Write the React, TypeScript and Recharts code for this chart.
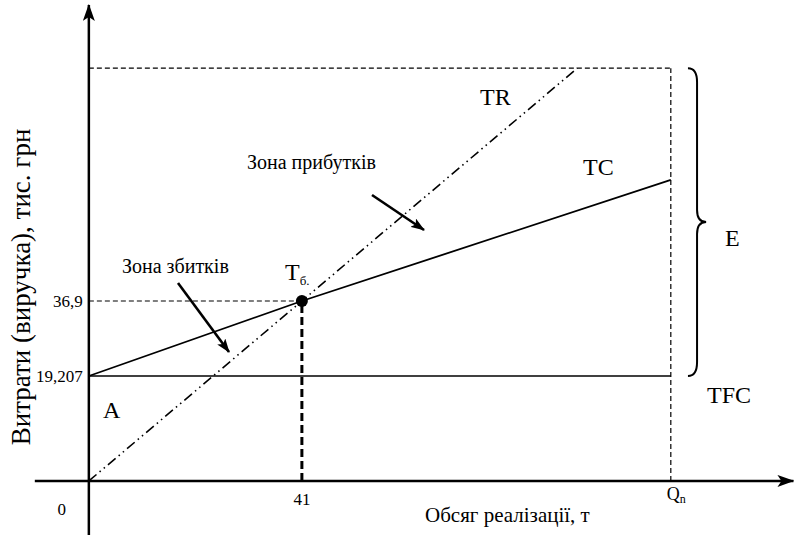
import { LineChart, Line, XAxis, YAxis, ReferenceLine, ReferenceDot, ReferenceArea } from "recharts";

// обсяг реалізації, т
const breakEvenQ = 41;
const planQ = 112;
const trEndQ = 94;

// витрати / виручка, тис. грн
const fixedCost = 19.207;
const breakEvenCost = 36.9;
const tcAtPlan = 68.8;
const trAtPlan = 100.8;

const trData = [
  { q: 0, v: 0 },
  { q: breakEvenQ, v: breakEvenCost },
  { q: trEndQ, v: trAtPlan },
];
const tcData = [
  { q: 0, v: fixedCost },
  { q: breakEvenQ, v: breakEvenCost },
  { q: planQ, v: tcAtPlan },
];
const tfcData = [
  { q: 0, v: fixedCost },
  { q: planQ, v: fixedCost },
];
const planTop = [
  { q: 0, v: trAtPlan },
  { q: planQ, v: trAtPlan },
];
const planSide = [
  { q: planQ, v: 0 },
  { q: planQ, v: trAtPlan },
];
const beLevel = [
  { q: 0, v: breakEvenCost },
  { q: breakEvenQ, v: breakEvenCost },
];
const beDrop = [
  { q: breakEvenQ, v: 0 },
  { q: breakEvenQ, v: breakEvenCost },
];

const xTicks = [0, breakEvenQ, planQ];
const yTicks = [0, fixedCost, breakEvenCost];

const xDomain = [-17.1, 135.9];
const yDomain = [-8.6, 121.3];

const FONT = "'Liberation Serif', 'Times New Roman', serif";

// схема не в масштабі: вісь витрат стиснута степеневою шкалою
function powScale(k: number): any {
  let dom = [0, 1];
  let rng = [0, 1];
  const g = (v: number) => Math.sign(v) * Math.pow(Math.abs(v), k);
  const s: any = (v: number) =>
    rng[0] + ((g(Number(v)) - g(dom[0])) / (g(dom[1]) - g(dom[0]))) * (rng[1] - rng[0]);
  s.domain = (d?: any[]) => {
    if (!d) return dom.slice();
    dom = [Number(d[0]), Number(d[d.length - 1])];
    return s;
  };
  s.range = (r?: any[]) => {
    if (!r) return rng.slice();
    rng = [Number(r[0]), Number(r[r.length - 1])];
    return s;
  };
  s.invert = (p: number) => {
    const t = g(dom[0]) + ((p - rng[0]) / (rng[1] - rng[0])) * (g(dom[1]) - g(dom[0]));
    return Math.sign(t) * Math.pow(Math.abs(t), 1 / k);
  };
  s.ticks = () => yTicks.slice();
  s.copy = () => powScale(k).domain(dom).range(rng);
  return s;
}

const yScale = powScale(0.826);

const Brace = (p: any) => {
  const { x, y, width, height } = p;
  const xm = x + width / 2;
  const ym = y + height / 2;
  const yb = y + height;
  const d = `M${x},${y} Q${xm},${y} ${xm},${y + 14} L${xm},${ym - 12} Q${xm},${ym} ${x + width},${ym} Q${xm},${ym} ${xm},${ym + 12} L${xm},${yb - 14} Q${xm},${yb} ${x},${yb}`;
  return <path d={d} fill="none" stroke="#000" strokeWidth={2} />;
};

const tickLabel = (text: string, dx: number, dy: number, anchor: string) => (props: any) => {
  const vb = props.viewBox || {};
  return (
    <text x={vb.x + dx} y={vb.y + dy} textAnchor={anchor} fontFamily={FONT} fontSize={17} fill="#000">
      {text}
    </text>
  );
};

const qnLabel = (props: any) => {
  const vb = props.viewBox || {};
  return (
    <text x={vb.x - 4} y={vb.y + 19} fontFamily={FONT} fontSize={18} fill="#000">
      Q
      <tspan fontSize={12} dy={3}>n</tspan>
    </text>
  );
};

const lineProps = { dataKey: "v", stroke: "#000", dot: false, activeDot: false, isAnimationActive: false } as const;

export default function App() {
  return (
    <div style={{ position: "absolute", left: 0, top: 0, background: "#fff" }}>
      <LineChart width={795} height={535} margin={{ top: 0, right: 0, bottom: 0, left: 0 }}>
        <defs>
          <marker id="axisArrow" viewBox="0 0 17 12" refX={16} refY={6} markerWidth={17} markerHeight={12} markerUnits="userSpaceOnUse" orient="auto">
            <path d="M0,0 L17,6 L0,12 L4,6 z" fill="#000" />
          </marker>
          <marker id="noteArrow" viewBox="0 0 14 10" refX={13} refY={5} markerWidth={14} markerHeight={10} markerUnits="userSpaceOnUse" orient="auto">
            <path d="M0,0 L14,5 L0,10 L3,5 z" fill="#000" />
          </marker>
        </defs>
        <XAxis type="number" dataKey="q" domain={xDomain} ticks={xTicks} allowDataOverflow hide />
        <YAxis type="number" dataKey="v" domain={yDomain} ticks={yTicks} scale={yScale} allowDataOverflow hide />

        <ReferenceArea x1={115.3} x2={118.8} y1={fixedCost} y2={trAtPlan} shape={Brace} ifOverflow="visible" />

        <Line {...lineProps} data={planTop} strokeWidth={1.2} strokeDasharray="5 3" />
        <Line {...lineProps} data={planSide} strokeWidth={1.2} strokeDasharray="5 3" />
        <Line {...lineProps} data={beLevel} strokeWidth={1.2} strokeDasharray="5 3" />
        <Line {...lineProps} data={beDrop} strokeWidth={3} strokeDasharray="8 4" />
        <Line {...lineProps} data={tfcData} strokeWidth={1.6} />
        <Line {...lineProps} data={tcData} strokeWidth={1.8} />
        <Line {...lineProps} data={trData} strokeWidth={1.6} strokeDasharray="10 4 1.5 4 1.5 4" />

        <ReferenceLine segment={[{ x: -10.4, y: 0 }, { x: 135.6, y: 0 }]} stroke="#000" strokeWidth={2.5} markerEnd="url(#axisArrow)" ifOverflow="visible" />
        <ReferenceLine segment={[{ x: 0, y: -8.6 }, { x: 0, y: 119.8 }]} stroke="#000" strokeWidth={2.5} markerEnd="url(#axisArrow)" ifOverflow="visible" />

        <ReferenceDot x={breakEvenQ} y={breakEvenCost} r={6} fill="#000" stroke="none" />
        <ReferenceDot x={0} y={breakEvenCost} r={0} label={{ content: tickLabel("36,9", -6, 6, "end") }} />
        <ReferenceDot x={0} y={fixedCost} r={0} label={{ content: tickLabel("19,207", -6, 6, "end") }} />
        <ReferenceDot x={0} y={0} r={0} label={{ content: tickLabel("0", -27, 34, "middle") }} />
        <ReferenceDot x={breakEvenQ} y={0} r={0} label={{ content: tickLabel("41", 0, 24, "middle") }} />
        <ReferenceDot x={planQ} y={0} r={0} label={{ content: qnLabel }} />

        <g fontFamily={FONT} fill="#000">
          <text x={480} y={105} fontSize={24}>TR</text>
          <text x={583} y={175} fontSize={24}>TC</text>
          <text x={725} y={246} fontSize={24}>E</text>
          <text x={707} y={403} fontSize={24}>TFC</text>
          <text x={103} y={418} fontSize={24}>A</text>
          <text x={285} y={280} fontSize={24}>
            Т<tspan fontSize={13} dy={5}>б.</tspan>
          </text>
          <text x={247} y={169} fontSize={20}>Зона прибутків</text>
          <text x={122} y={273} fontSize={20}>Зона збитків</text>
          <text x={425} y={522} fontSize={21}>Обсяг реалізації, т</text>
          <text x={30} y={287} fontSize={27} textAnchor="middle" transform="rotate(-90 30 287)">
            Витрати (виручка), тис. грн
          </text>
        </g>
        <g stroke="#000" strokeWidth={2.6}>
          <line x1={372} y1={195} x2={424} y2={230} markerEnd="url(#noteArrow)" />
          <line x1={178} y1={283} x2={229} y2={352} markerEnd="url(#noteArrow)" />
        </g>
      </LineChart>
    </div>
  );
}
